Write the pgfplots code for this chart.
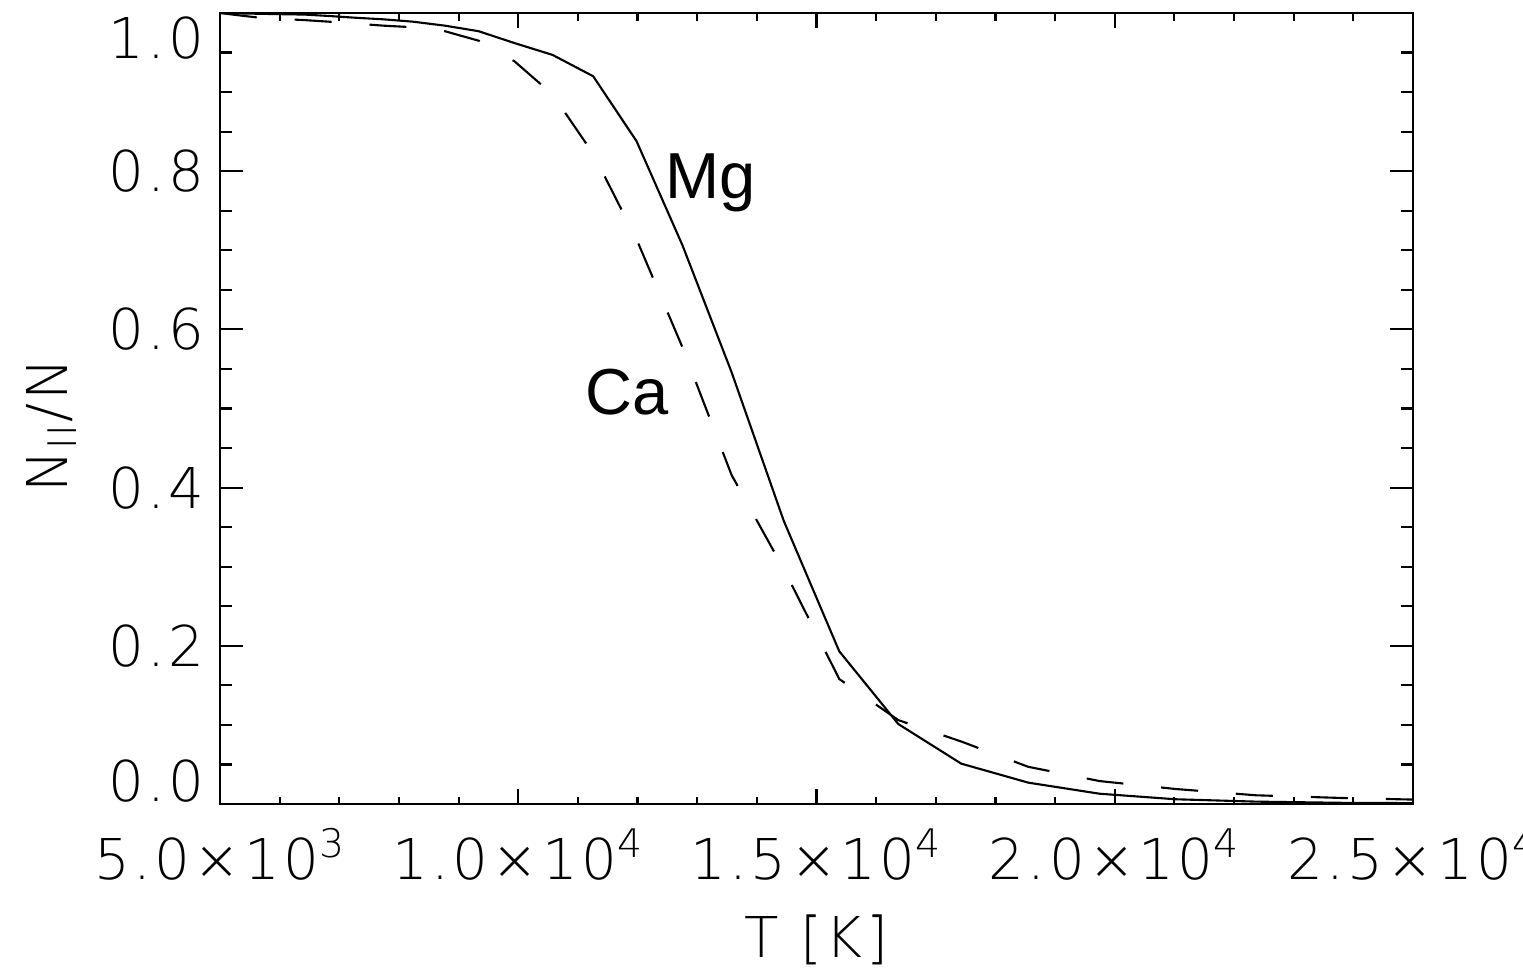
\documentclass[border=0pt]{standalone}
\usepackage{fontspec}
\setmainfont{DejaVu Sans}
\IfFontExistsTF{DejaVu Sans ExtraLight}
  {\newfontfamily\thin{DejaVu Sans ExtraLight}[LetterSpace=6]}
  {\newfontfamily\thin{DejaVu Sans}[LetterSpace=6]}
\newfontfamily\helv{Liberation Sans}
\usepackage{pgfplots}
\pgfplotsset{compat=1.18}

% ionisation fraction N_II/N
\pgfplotstableread{
T      mg      ca
5000   1.000   1.000
5322   0.9995  0.997
5665   0.999   0.994
6030   0.9985  0.9925
6418   0.998   0.991
6832   0.9962  0.989
7272   0.994   0.9866
7740   0.992   0.984
8239   0.989   0.982
8770   0.984   0.977
9335   0.977   0.965
9936   0.962   0.939
10576  0.947   0.897
11257  0.920   0.822
11983  0.838   0.714
12755  0.706   0.577
13576  0.546   0.416
14451  0.358   0.297
15382  0.193   0.158
16373  0.101   0.106
17427  0.051   0.079
18550  0.027   0.047
19745  0.013   0.029
21017  0.006   0.019
22371  0.003   0.011
23812  0.0015  0.0076
25346  0.001   0.005
}\ionfrac

\begin{document}
\begin{tikzpicture}
\begin{axis}[
  at={(0,0)}, anchor=south west,
  scale only axis,
  width=11.93cm, height=7.91cm,
  xmin=5000, xmax=25000,
  ymin=0, ymax=1,
  scaled x ticks=false,
  tick pos=both,
  tick align=inside,
  xtick={5000,10000,15000,20000,25000},
  xticklabels={5.0×10\textsuperscript{3},1.0×10\textsuperscript{4},1.5×10\textsuperscript{4},2.0×10\textsuperscript{4},2.5×10\textsuperscript{4}},
  minor x tick num=4,
  ytick={0,0.2,0.4,0.6,0.8,1},
  yticklabels={\raisebox{0.4em}[\height][\depth]{0.0},0.2,0.4,0.6,0.8,\raisebox{-0.45em}[\height][\depth]{1.0}},
  minor y tick num=3,
  major tick length=0.23cm,
  minor tick length=0.12cm,
  xtick style={/pgfplots/major tick length=0.15cm,/pgfplots/minor tick length=0.075cm},
  every tick/.append style={black, line width=0.6pt},
  axis line style={line width=0.7pt},
  ticklabel style={font=\thin\fontsize{16}{19}\selectfont},
  yticklabel style={xshift=-0.03cm},
  xticklabel style={yshift=-0.12cm},
  xlabel={T [K]},
  ylabel={N\textsubscript{II}/N},
  every axis x label/.style={at={(axis description cs:0.5,-0.172)}, anchor=center,
    font=\thin\fontsize{16}{19}\selectfont},
  every axis y label/.style={at={(axis description cs:-0.141,0.479)}, anchor=center, rotate=90,
    font=\thin\fontsize{16}{19}\selectfont},
]
\addplot[black, line width=0.6pt] table[x=T, y=mg] {\ionfrac};
\addplot[black, line width=0.6pt, dash pattern=on 0.37cm off 0.38cm] table[x=T, y=ca] {\ionfrac};
\node[anchor=base west, inner sep=0pt, font=\helv\fontsize{18.5}{22}\selectfont] at (axis cs:12460,0.766) {Mg};
\node[anchor=base west, inner sep=0pt, font=\helv\fontsize{18.5}{22}\selectfont] at (axis cs:11119,0.492) {Ca};
\end{axis}
\pgfresetboundingbox
\path[use as bounding box] (-2.20,-1.71) rectangle (13.03,8.04);
\end{tikzpicture}
\end{document}
